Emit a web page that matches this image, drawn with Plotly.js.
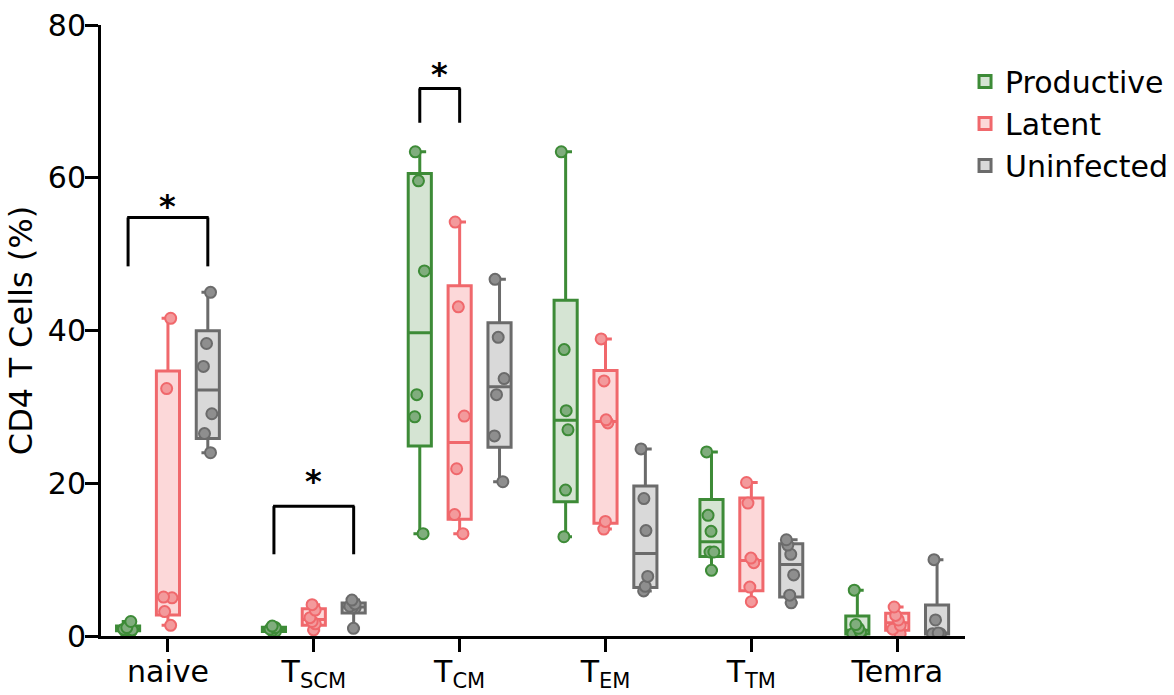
<!DOCTYPE html>
<html><head><meta charset="utf-8">
<script src="https://cdn.plot.ly/plotly-3.0.1.min.js"></script>
<style>html,body{margin:0;padding:0;background:#fff;} #chart{width:1174px;height:695px;}</style>
</head><body><div id="chart"></div>
<script>
// ---------- data ----------
const categories = ['naive', 'TSCM', 'TCM', 'TEM', 'TTM', 'Temra'];
const tickLabels = ['naive', 'T<sub>SCM</sub>', 'T<sub>CM</sub>', 'T<sub>EM</sub>', 'T<sub>TM</sub>', 'Temra'];
const groupNames = ['Productive', 'Latent', 'Uninfected'];

// values per category (same order as categories), % of CD4 T cells
const productive = [
  [1.9, 1.1, 0.9, 0.8, 0.7, 0.6],
  [1.3, 1.1, 0.9, 0.7, 0.6, 0.5],
  [63.4, 59.6, 47.8, 31.6, 28.7, 13.4],
  [63.4, 37.5, 29.5, 27.0, 19.1, 13.0],
  [24.1, 15.8, 13.7, 11.0, 11.0, 8.6],
  [6.0, 1.5, 1.0, 0.5, 0.3, 0.2]
];
const latent = [
  [41.6, 32.4, 5.1, 5.0, 3.2, 1.4],
  [4.1, 3.4, 2.4, 1.9, 1.6, 0.8],
  [54.2, 43.1, 28.8, 21.9, 15.9, 13.4],
  [38.9, 33.4, 28.3, 27.9, 15.0, 14.0],
  [20.1, 17.4, 10.2, 9.6, 6.4, 4.5],
  [3.8, 2.7, 2.1, 1.4, 0.9, 0.3]
];
const uninfected = [
  [45.0, 38.3, 35.3, 29.1, 26.5, 24.0],
  [4.7, 4.2, 3.9, 3.7, 3.7, 1.0],
  [46.7, 39.1, 33.7, 31.6, 26.2, 20.2],
  [24.5, 18.0, 13.8, 7.8, 6.5, 5.9],
  [12.6, 11.9, 10.7, 8.0, 5.35, 4.35],
  [10.0, 2.1, 0.4, 0.3, 0.3, 0.2]
];

// significance brackets
const sigCategory = ['naive', 'TSCM', 'TCM'];
const sigFromGroup = [0, 0, 0];
const sigToGroup = [2, 2, 1];
const sigTop = [54.8, 17.0, 71.7];
const sigLegEnd = [48.4, 10.7, 67.2];
const sigStarY = [57.3, 21.3, 74.6];
const sigLabel = ['*', '*', '*'];

// ---------- styles ----------
const lineColors = ['#3d8b37', '#f0686c', '#6b6b6b'];
const boxFills = ['#d5e4d3', '#fcd8d9', '#d9d9d9'];
const pointFills = ['#80ad7d', '#f39a9c', '#8e8e8e'];
const FONT = 'DejaVu Sans, Liberation Sans, Arial, sans-serif';
const BOXGAP = 0.18;
const groupOffset = (1 - BOXGAP) / 3;

// quartiles with the (n+1)p rule
function quant(arr, p) {
  const s = arr.slice().sort((a, b) => a - b);
  const n = s.length;
  let h = (n + 1) * p;
  if (h < 1) h = 1;
  if (h > n) h = n;
  const lo = Math.floor(h), f = h - lo;
  if (lo >= n) return s[n - 1];
  return s[lo - 1] + f * (s[lo] - s[lo - 1]);
}

const allGroups = [productive, latent, uninfected];
const statTraces = [], pointTraces = [];
allGroups.forEach((grp, g) => {
  statTraces.push({
    type: 'box', name: groupNames[g], x: categories,
    q1: grp.map(v => quant(v, 0.25)),
    median: grp.map(v => quant(v, 0.5)),
    q3: grp.map(v => quant(v, 0.75)),
    lowerfence: grp.map(v => Math.min.apply(null, v)),
    upperfence: grp.map(v => Math.max.apply(null, v)),
    boxpoints: false, offsetgroup: 'g' + g, alignmentgroup: 'a',
    fillcolor: boxFills[g], line: {color: lineColors[g], width: 3},
    whiskerwidth: 0.55, legendgroup: 'g' + g, hoverinfo: 'skip'
  });
  const xs = [], ys = [];
  grp.forEach((vals, i) => vals.forEach(v => { xs.push(categories[i]); ys.push(v); }));
  pointTraces.push({
    type: 'box', name: groupNames[g], x: xs, y: ys,
    boxpoints: 'all', jitter: 0.45, pointpos: 0,
    offsetgroup: 'g' + g, alignmentgroup: 'a',
    fillcolor: 'rgba(0,0,0,0)', line: {color: 'rgba(0,0,0,0)', width: 0},
    whiskerwidth: 0,
    marker: {color: pointFills[g], size: 11, line: {color: lineColors[g], width: 2}},
    showlegend: false, legendgroup: 'g' + g
  });
});

const shapes = [], annotations = [];
sigCategory.forEach((c, k) => {
  const ci = categories.indexOf(c);
  const x0 = ci + (sigFromGroup[k] - 1) * groupOffset;
  const x1 = ci + (sigToGroup[k] - 1) * groupOffset;
  const ln = {color: '#000', width: 3};
  shapes.push({type: 'line', xref: 'x', yref: 'y', x0: x0, x1: x0, y0: sigLegEnd[k], y1: sigTop[k], line: ln});
  shapes.push({type: 'line', xref: 'x', yref: 'y', x0: x1, x1: x1, y0: sigLegEnd[k], y1: sigTop[k], line: ln});
  shapes.push({type: 'line', xref: 'x', yref: 'y', x0: x0 - 0.006, x1: x1 + 0.006, y0: sigTop[k], y1: sigTop[k], line: ln});
  annotations.push({xref: 'x', yref: 'y', x: (x0 + x1) / 2, y: sigStarY[k], text: '<b>' + sigLabel[k] + '</b>',
    showarrow: false, yanchor: 'middle', yshift: -8, font: {family: FONT, size: 32, color: '#000'}});
});

const layout = {
  width: 1174, height: 695,
  margin: {l: 101, r: 204, t: 25, b: 59},
  paper_bgcolor: '#fff', plot_bgcolor: '#fff',
  boxmode: 'group', boxgap: BOXGAP, boxgroupgap: 0.42,
  font: {family: FONT, color: '#000'},
  showlegend: true,
  legend: {xref: 'container', yref: 'container', x: 0.822, y: 0.92, xanchor: 'left', yanchor: 'top',
    font: {family: FONT, size: 30, color: '#000'},
    bgcolor: 'rgba(0,0,0,0)', itemwidth: 30, tracegroupgap: 0},
  xaxis: {
    type: 'category', categoryorder: 'array', categoryarray: categories,
    tickvals: categories, ticktext: tickLabels, range: [-0.459, 5.465],
    showline: true, linecolor: '#000', linewidth: 3,
    ticks: 'outside', ticklen: 13, tickwidth: 3, tickcolor: '#000',
    ticklabelstandoff: -6, automargin: false,
    showgrid: false, zeroline: false,
    tickfont: {family: FONT, size: 30, color: '#000'}
  },
  yaxis: {
    range: [0, 80], tickvals: [0, 20, 40, 60, 80],
    showline: true, linecolor: '#000', linewidth: 3,
    ticks: 'outside', ticklen: 13, tickwidth: 3, tickcolor: '#000',
    ticklabelstandoff: -7, automargin: false,
    showgrid: false, zeroline: false,
    tickfont: {family: FONT, size: 30, color: '#000'},
    title: {text: 'CD4 T Cells (%)', font: {family: FONT, size: 32, color: '#000'}, standoff: 6}
  },
  shapes: shapes, annotations: annotations
};

Plotly.newPlot('chart', statTraces.concat(pointTraces), layout, {displayModeBar: false, staticPlot: true});
</script>
</body></html>
